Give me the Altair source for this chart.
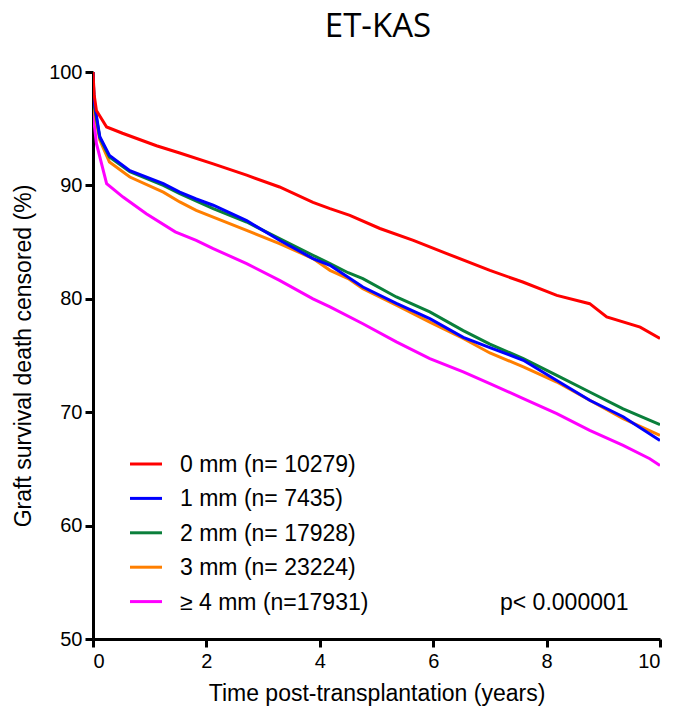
import altair as alt
import pandas as pd

# ---- data ----
categories = ["0 mm (n= 10279)", "1 mm (n= 7435)", "2 mm (n= 17928)",
              "3 mm (n= 23224)", "≥ 4 mm (n=17931)"]
colors = ["#FF0000", "#0000FF", "#0A7F3B", "#FF7F00", "#FF00FF"]

t_0mm = [0, 0.02, 0.06, 0.24, 0.52, 1.12, 1.53, 2.12, 2.71, 3.29, 3.88, 4.18, 4.53,
         5.06, 5.65, 6.24, 7.0, 7.58, 8.18, 8.76, 9.06, 9.65, 10.0]
s_0mm = [100, 98.0, 96.6, 95.15, 94.6, 93.5, 92.86, 91.9, 90.9, 89.86, 88.5, 87.95, 87.36,
         86.2, 85.16, 83.99, 82.5, 81.48, 80.3, 79.57, 78.4, 77.5, 76.5]

t_1mm = [0, 0.02, 0.12, 0.29, 0.65, 1.24, 1.53, 1.82, 2.12, 2.71, 3.29, 3.88, 4.18, 4.5,
         4.76, 5.35, 5.94, 6.53, 7.0, 7.59, 8.18, 8.76, 9.35, 10.0]
s_1mm = [100, 97.4, 94.3, 92.65, 91.3, 90.15, 89.4, 88.8, 88.25, 86.9, 85.16, 83.55, 82.95, 81.9,
         81.04, 79.6, 78.25, 76.6, 75.7, 74.58, 72.8, 71.05, 69.6, 67.5]

t_2mm = [0, 0.02, 0.12, 0.29, 0.65, 1.24, 1.53, 2.12, 2.71, 3.29, 3.88, 4.18, 4.5, 4.76,
         5.35, 5.94, 6.53, 7.0, 7.59, 8.18, 8.76, 9.35, 10.0]
s_2mm = [100, 97.1, 94.2, 92.5, 91.2, 90.0, 89.27, 87.95, 86.77, 85.3, 83.84, 83.1, 82.3, 81.78,
         80.16, 78.84, 77.2, 76.0, 74.73, 73.25, 71.78, 70.3, 68.9]

t_3mm = [0, 0.02, 0.12, 0.29, 0.65, 1.24, 1.53, 1.82, 2.12, 2.71, 3.29, 3.88, 4.18, 4.5,
         4.76, 5.35, 5.94, 6.53, 7.0, 7.59, 8.18, 8.76, 9.35, 10.0]
s_3mm = [100, 96.6, 94.0, 92.06, 90.74, 89.4, 88.54, 87.8, 87.2, 86.04, 84.87, 83.55, 82.51, 81.78,
         80.9, 79.43, 77.95, 76.5, 75.22, 74.0, 72.66, 71.05, 69.43, 67.96]

t_4mm = [0, 0.02, 0.06, 0.24, 0.53, 0.94, 1.45, 1.82, 2.12, 2.71, 3.29, 3.88, 4.18, 4.76,
         5.35, 5.94, 6.53, 7.0, 7.59, 8.18, 8.76, 9.35, 9.82, 10.0]
s_4mm = [100, 95.5, 93.7, 90.16, 88.97, 87.5, 85.9, 85.16, 84.43, 83.1, 81.63, 80.0, 79.28, 77.8,
         76.2, 74.73, 73.55, 72.52, 71.2, 69.88, 68.4, 67.08, 65.9, 65.3]

x_ticks = [0, 2, 4, 6, 8, 10]
y_ticks = [50, 60, 70, 80, 90, 100]
p_text = "p< 0.000001"
title_text = "ET-KAS"

series_t = [t_0mm, t_1mm, t_2mm, t_3mm, t_4mm]
series_s = [s_0mm, s_1mm, s_2mm, s_3mm, s_4mm]

FONT = "Liberation Sans"
W, H = 567, 567

x_axis = alt.Axis(values=x_ticks, title="Time post-transplantation (years)", grid=False,
                  domainColor="black", domainWidth=3, tickColor="black", tickWidth=3,
                  tickSize=8, labelFont=FONT, labelFontSize=20, labelColor="black",
                  labelPadding=4, titleFont=FONT, titleFontSize=23, titleFontWeight="normal",
                  titleColor="black", titlePadding=11)
y_axis = alt.Axis(values=y_ticks, title="Graft survival death censored (%)", grid=False,
                  domainColor="black", domainWidth=3, tickColor="black", tickWidth=3,
                  tickSize=8, labelFont=FONT, labelFontSize=20, labelColor="black",
                  labelPadding=3, titleFont=FONT, titleFontSize=23, titleFontWeight="normal",
                  titleColor="black", titlePadding=13)

xs = alt.Scale(domain=[0, 10], nice=False, zero=False)
ys = alt.Scale(domain=[50, 100], nice=False, zero=False)

draw_order = [4, 3, 2, 1, 0]
layers = []
for i in draw_order:
    df = pd.DataFrame({"t": series_t[i], "s": series_s[i]})
    ch = alt.Chart(df).mark_line(color=colors[i], strokeWidth=3, clip=True).encode(
        x=alt.X("t:Q", scale=xs, axis=x_axis),
        y=alt.Y("s:Q", scale=ys, axis=y_axis),
    )
    layers.append(ch)

# legend (drawn manually, as in the reference)
row0, row_step = 392, 34.4
for k, lab in enumerate(categories):
    ldf = pd.DataFrame({"label": [lab]})
    yk = row0 + k * row_step
    layers.append(alt.Chart(ldf).mark_rule(color=colors[k], strokeWidth=3).encode(
        x=alt.value(37), x2=alt.value(69), y=alt.value(yk)))
    layers.append(alt.Chart(ldf).mark_text(align="left", baseline="middle", font=FONT,
                                           fontSize=23, color="black").encode(
        x=alt.value(87), y=alt.value(yk + 1), text="label:N"))

pdf = pd.DataFrame({"label": [p_text]})
layers.append(alt.Chart(pdf).mark_text(align="left", baseline="alphabetic", font=FONT,
                                       fontSize=23, color="black").encode(
    x=alt.value(407), y=alt.value(538), text="label:N"))

tdf = pd.DataFrame({"label": [title_text]})
layers.append(alt.Chart(tdf).mark_text(align="center", baseline="alphabetic", font="Open Sans",
                                       fontSize=33, color="black").encode(
    x=alt.value(285), y=alt.value(-35), text="label:N"))

chart = alt.layer(*layers).properties(
    width=W, height=H,
    autosize=alt.AutoSizeParams(type="none"),
    padding={"left": 93, "top": 72, "right": 14, "bottom": 70},
    background="white",
).configure_view(stroke=None)

chart.save("out.html", embed_options={"renderer": "svg", "actions": False})
